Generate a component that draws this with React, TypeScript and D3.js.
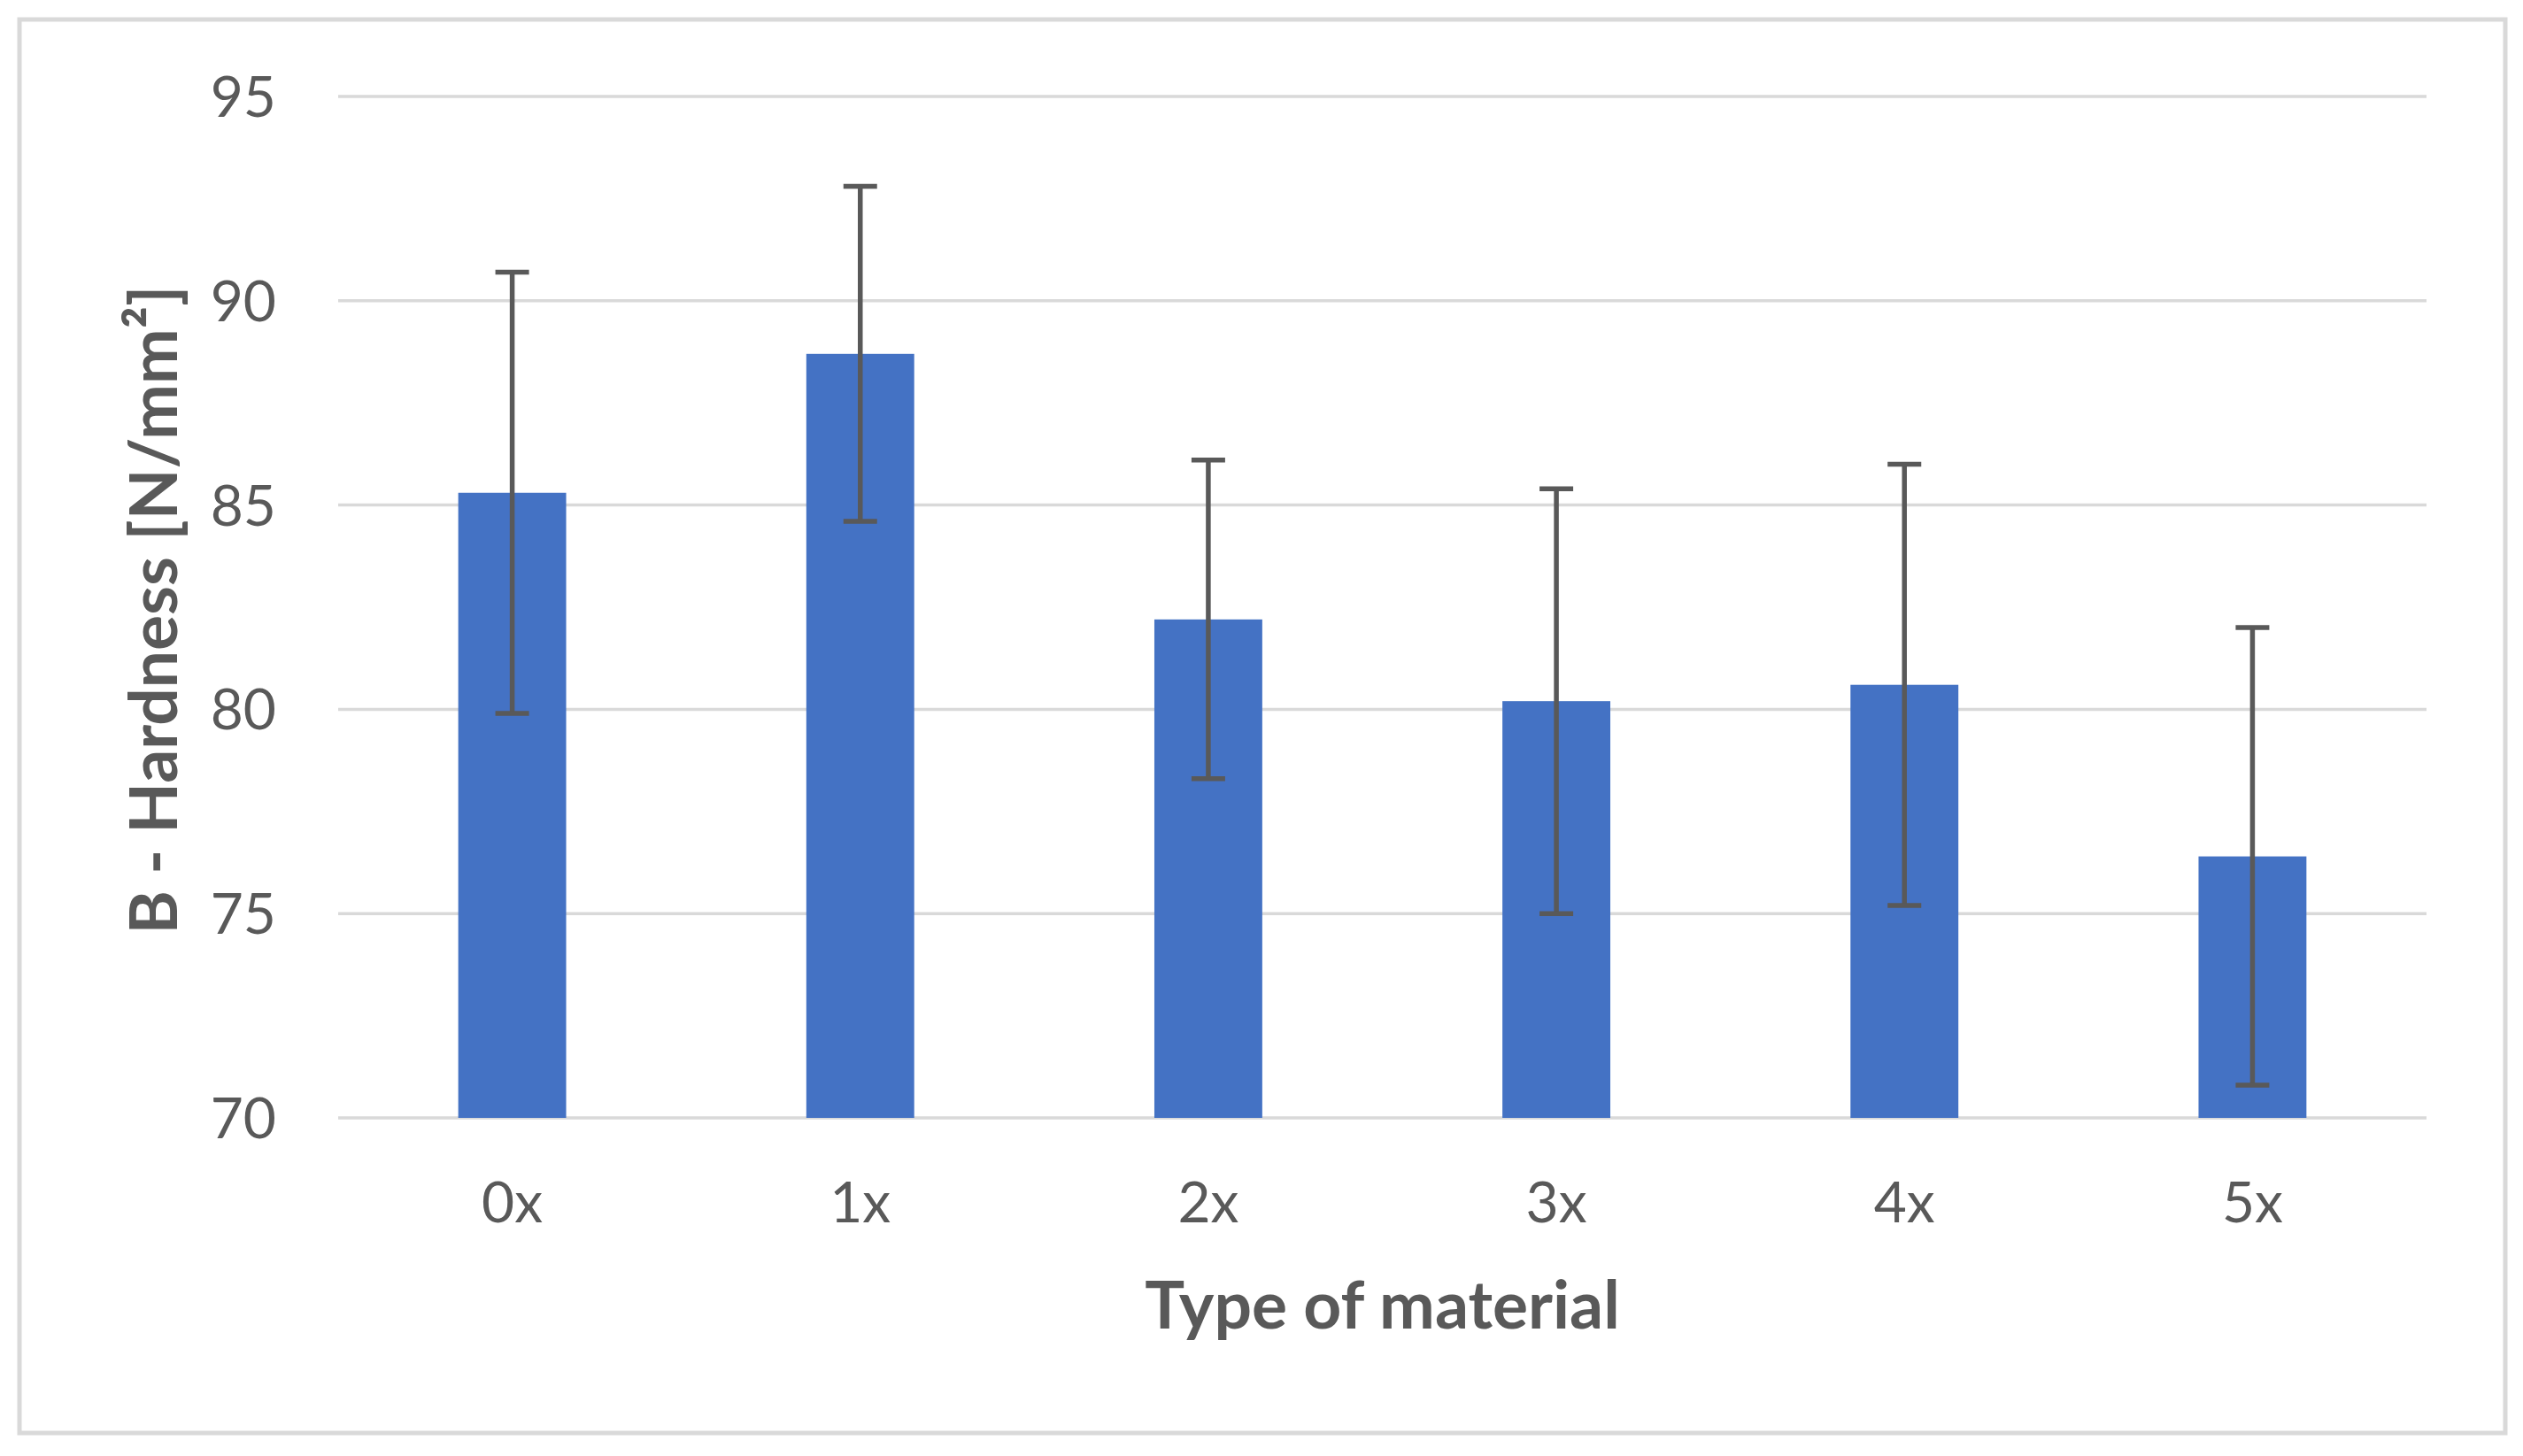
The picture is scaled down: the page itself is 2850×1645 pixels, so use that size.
import React, { useEffect, useRef } from 'react';
import * as d3 from 'd3';

const categories = ['0x', '1x', '2x', '3x', '4x', '5x'];
const hardness = [85.3, 88.7, 82.2, 80.2, 80.6, 76.4];
const hardnessErr = [5.4, 4.1, 3.9, 5.2, 5.4, 5.6];
const yTicks = [70, 75, 80, 85, 90, 95];

const W = 2850;
const H = 1645;

export default function App() {
  const svgRef = useRef<SVGSVGElement>(null);

  useEffect(() => {
    if (!svgRef.current) return;
    const svg = d3.select(svgRef.current);
    svg.selectAll('*').remove();

    const margin = { top: 109, right: 109, bottom: 382, left: 382 };
    const w = W - margin.left - margin.right;
    const h = H - margin.top - margin.bottom;
    const font = 'Lato, "Open Sans", sans-serif';

    svg.append('rect').attr('width', W).attr('height', H).attr('fill', '#fff');
    svg
      .append('rect')
      .attr('x', 22)
      .attr('y', 22)
      .attr('width', 2808)
      .attr('height', 1597)
      .attr('fill', 'none')
      .attr('stroke', '#d9d9d9')
      .attr('stroke-width', 5);

    const g = svg.append('g').attr('transform', `translate(${margin.left},${margin.top})`);

    const x = d3.scaleBand().domain(categories).range([0, w]).paddingInner(0.69).paddingOuter(0.345);
    const y = d3.scaleLinear().domain([70, 95]).range([h, 0]);

    // gridlines
    g.selectAll('.grid')
      .data(yTicks)
      .enter()
      .append('line')
      .attr('x1', 0)
      .attr('x2', w)
      .attr('y1', (d) => y(d))
      .attr('y2', (d) => y(d))
      .attr('stroke', '#d9d9d9')
      .attr('stroke-width', 3.5);

    // y tick labels
    g.selectAll('.ytick')
      .data(yTicks)
      .enter()
      .append('text')
      .attr('x', -70)
      .attr('y', (d) => y(d))
      .attr('dy', '0.36em')
      .attr('text-anchor', 'end')
      .attr('fill', '#595959')
      .attr('font-family', font)
      .attr('font-size', 64)
      .text((d) => d);

    // bars
    g.selectAll('.bar')
      .data(hardness)
      .enter()
      .append('rect')
      .attr('x', (_, i) => x(categories[i])!)
      .attr('y', (d) => y(d))
      .attr('width', x.bandwidth())
      .attr('height', (d) => h - y(d))
      .attr('fill', '#4472c4');

    // error bars
    const cap = 19;
    const err = g
      .selectAll('.err')
      .data(hardness)
      .enter()
      .append('g')
      .attr('transform', (_, i) => `translate(${x(categories[i])! + x.bandwidth() / 2},0)`)
      .attr('stroke', '#595959')
      .attr('stroke-width', 5.5);
    err
      .append('line')
      .attr('y1', (d, i) => y(d + hardnessErr[i]))
      .attr('y2', (d, i) => y(d - hardnessErr[i]));
    err
      .append('line')
      .attr('x1', -cap)
      .attr('x2', cap)
      .attr('y1', (d, i) => y(d + hardnessErr[i]))
      .attr('y2', (d, i) => y(d + hardnessErr[i]));
    err
      .append('line')
      .attr('x1', -cap)
      .attr('x2', cap)
      .attr('y1', (d, i) => y(d - hardnessErr[i]))
      .attr('y2', (d, i) => y(d - hardnessErr[i]));

    // x tick labels
    g.selectAll('.xtick')
      .data(categories)
      .enter()
      .append('text')
      .attr('x', (d) => x(d)! + x.bandwidth() / 2)
      .attr('y', h + 118)
      .attr('text-anchor', 'middle')
      .attr('fill', '#595959')
      .attr('font-family', font)
      .attr('font-size', 64)
      .text((d) => d);

    // axis titles
    g.append('text')
      .attr('x', w / 2)
      .attr('y', h + 238)
      .attr('text-anchor', 'middle')
      .attr('fill', '#595959')
      .attr('font-family', font)
      .attr('font-weight', 'bold')
      .attr('font-size', 75)
      .text('Type of material');

    svg
      .append('text')
      .attr('transform', `translate(200,689) rotate(-90)`)
      .attr('text-anchor', 'middle')
      .attr('fill', '#595959')
      .attr('font-family', font)
      .attr('font-weight', 'bold')
      .attr('font-size', 75)
      .text('B - Hardness [N/mm²]');
  }, []);

  return (
    <svg
      ref={svgRef}
      width={W}
      height={H}
      style={{ position: 'absolute', left: 0, top: 0, display: 'block' }}
    />
  );
}
